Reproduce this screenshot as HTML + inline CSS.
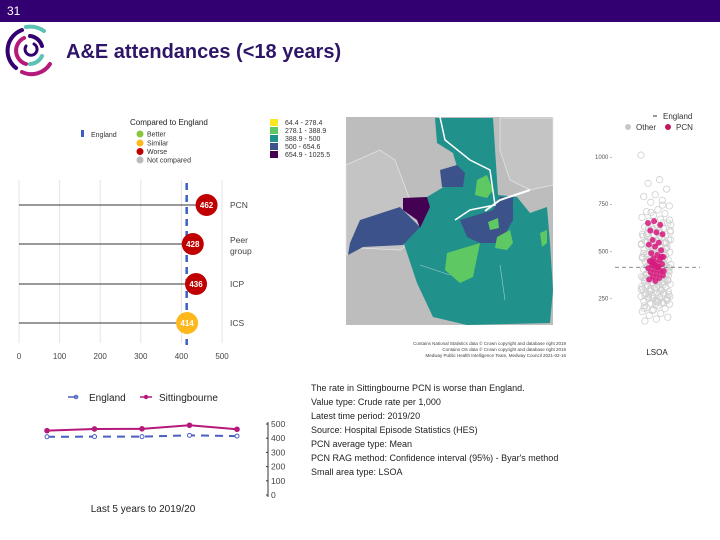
<!DOCTYPE html>
<html><head><meta charset="utf-8">
<style>
html,body{margin:0;padding:0;background:#fff;width:720px;height:540px;overflow:hidden;font-family:"Liberation Sans",sans-serif;}
svg text{font-family:"Liberation Sans",sans-serif;}
</style></head>
<body>
<svg id="s" width="720" height="540" viewBox="0 0 720 540" xmlns="http://www.w3.org/2000/svg">
  <rect x="0" y="0" width="720" height="22" fill="#330072"/>
  <text x="7" y="15" font-size="12" fill="#fff">31</text>
  <g fill="none" stroke-width="4" stroke-linecap="round">
    <path d="M22 30 A22 22 0 0 0 16 68" stroke="#330072"/>
    <path d="M26 27 A24 24 0 0 1 44 31" stroke="#5bc2b5"/>
    <path d="M50 64 A22 22 0 0 1 22 72" stroke="#b5197a"/>
    <path d="M24 38 A14 14 0 0 0 26 64" stroke="#b5197a"/>
    <path d="M30 36 A14 14 0 0 1 42 46" stroke="#330072"/>
    <path d="M42 56 A14 14 0 0 1 30 64" stroke="#5bc2b5"/>
    <path d="M26 46 A6 6 0 1 0 34 44" stroke="#330072" stroke-width="3"/>
  </g>
  <text x="66" y="58" font-size="20" font-weight="bold" fill="#2e1567">A&amp;E attendances (&lt;18 years)</text>

  <text x="130" y="125" font-size="8" fill="#222">Compared to England</text>
  <rect x="81" y="130" width="3" height="7" fill="#3a5fc4"/>
  <text x="91" y="137" font-size="7" fill="#333">England</text>
  <g font-size="7" fill="#333">
    <circle cx="140" cy="134" r="3.5" fill="#8cc63f"/><text x="147" y="136.5">Better</text>
    <circle cx="140" cy="143" r="3.5" fill="#ffb81c"/><text x="147" y="145.5">Similar</text>
    <circle cx="140" cy="151.5" r="3.5" fill="#c00000"/><text x="147" y="154">Worse</text>
    <circle cx="140" cy="160" r="3.5" fill="#bbb"/><text x="147" y="162.5">Not compared</text>
  </g>
  <g id="lolli"></g>

  <g font-size="7" fill="#333">
    <rect x="270" y="119" width="8" height="7" fill="#fde725"/><text x="285" y="125">64.4 - 278.4</text>
    <rect x="270" y="127" width="8" height="7" fill="#5ec962"/><text x="285" y="133">278.1 - 388.9</text>
    <rect x="270" y="135" width="8" height="7" fill="#21918c"/><text x="285" y="141">388.9 - 500</text>
    <rect x="270" y="143" width="8" height="7" fill="#3b528b"/><text x="285" y="149">500 - 654.6</text>
    <rect x="270" y="151" width="8" height="7" fill="#440154"/><text x="285" y="157">654.9 - 1025.5</text>
  </g>
  <g>
    <rect x="346" y="117" width="207" height="208" fill="#bdbdbd"/>
    <path d="M346 165 L380 150 L395 160 L410 200 L430 230 L400 250 L360 248 L346 255 Z" fill="#c4c4c4" stroke="#e6e6e6" stroke-width="0.7"/>
    <path d="M500 118 L553 118 L553 185 L530 190 L510 180 L500 150 Z" fill="#c4c4c4" stroke="#e6e6e6" stroke-width="0.7"/>
    <path d="M435 118 L493 118 L498 195 L517 197 L530 213 L547 207 L550 243 L553 290 L550 323 L467 325 L433 317 L417 283 L405 247 L403 240 L420 227 L427 197 L460 177 L453 153 L437 143 Z" fill="#21918c"/>
    <path d="M350 243 L360 220 L400 207 L420 227 L403 245 L363 247 L348 255 Z" fill="#3b528b"/>
    <path d="M403 198 L427 197 L430 207 L420 228 L417 220 L403 210 Z" fill="#440154"/>
    <path d="M440 170 L457 165 L465 173 L463 187 L442 187 Z" fill="#3b528b"/>
    <path d="M477 180 L487 175 L493 190 L487 198 L475 195 Z" fill="#5ec962"/>
    <path d="M460 220 L493 210 L500 197 L513 197 L513 220 L500 243 L480 243 L467 237 Z" fill="#3b528b"/>
    <path d="M447 253 L480 243 L473 277 L460 283 L445 270 Z" fill="#5ec962"/>
    <path d="M497 237 L510 230 L513 243 L507 250 L495 248 Z" fill="#5ec962"/>
    <path d="M488 222 L498 218 L499 228 L490 230 Z" fill="#5ec962"/>
    <path d="M540 233 L547 230 L547 243 L542 247 Z" fill="#5ec962"/>
    <path d="M440 117 L445 140 L470 160 L490 170 L495 205 L470 210 L455 220" fill="none" stroke="#fff" stroke-width="1.5"/>
    <path d="M485 211 L500 200 L515 195 L530 190" fill="none" stroke="#fff" stroke-width="2"/>
    <path d="M420 265 L450 275 M500 265 L505 300" stroke="#9fd3cf" stroke-width="0.6" fill="none"/>
  </g>
  <g font-size="4.5" fill="#444" text-anchor="end">
    <text x="566" y="345">Contains National Statistics data © Crown copyright and database right 2019</text>
    <text x="566" y="351">Contains OS data © Crown copyright and database right 2019</text>
    <text x="566" y="357">Medway Public Health Intelligence Team, Medway Council 2021-02-16</text>
  </g>

  <g font-size="8" fill="#333">
    <line x1="653" y1="116" x2="657" y2="116" stroke="#333"/><text x="663" y="119">England</text>
    <circle cx="628" cy="127" r="3" fill="#c8c8c8"/><text x="636" y="130">Other</text>
    <circle cx="668" cy="127" r="3" fill="#c2185b"/><text x="676" y="130">PCN</text>
  </g>
  <g id="scat"></g>
  <text x="657" y="355" font-size="8" fill="#222" text-anchor="middle">LSOA</text>

  <g font-size="10" fill="#222">
    <line x1="68" y1="397" x2="78" y2="397" stroke="#4a5fc1" stroke-width="1.5"/><circle cx="76" cy="397" r="1.8" fill="none" stroke="#4a5fc1"/>
    <text x="89" y="401">England</text>
    <line x1="140" y1="397" x2="152" y2="397" stroke="#b5197a" stroke-width="1.5"/><circle cx="146" cy="397" r="2.2" fill="#b5197a"/>
    <text x="159" y="401">Sittingbourne</text>
  </g>
  <g id="trend"></g>
  <text x="143" y="512" font-size="10" fill="#222" text-anchor="middle">Last 5 years to 2019/20</text>

  <g font-size="9" fill="#222">
    <text x="311" y="391">The rate in Sittingbourne PCN is worse than England.</text>
    <text x="311" y="405">Value type: Crude rate per 1,000</text>
    <text x="311" y="419">Latest time period: 2019/20</text>
    <text x="311" y="433">Source: Hospital Episode Statistics (HES)</text>
    <text x="311" y="447">PCN average type: Mean</text>
    <text x="311" y="461">PCN RAG method: Confidence interval (95%) - Byar's method</text>
    <text x="311" y="475">Small area type: LSOA</text>
  </g>
</svg>
<script>
const NS="http://www.w3.org/2000/svg";
const lolliCats=["PCN","Peer group","ICP","ICS"];
const lolliVals=[462,428,436,414];
const lolliColors=["#c00000","#c00000","#c00000","#ffb81c"];
const englandVal=413;
const lolliTicks=[0,100,200,300,400,500];
const trendYears=["2015/16","2016/17","2017/18","2018/19","2019/20"];
const trendSitt=[453,465,466,491,463];
const trendEng=[410,411,411,420,415];
const trendTicks=[0,100,200,300,400,500];
const scatTicks=[250,500,750,1000];
const scatEngland=415;
const scatOther=[1010,880,860,830,800,790,770,760,740,720,710,700,690,680,670,660,650,640,630,620,615,610,600,595,590,585,580,570,565,560,555,550,545,540,535,530,525,520,515,510,505,500,495,490,485,480,475,470,465,460,455,450,445,440,435,430,425,420,415,410,405,400,395,390,385,380,375,370,365,360,355,350,345,340,335,330,325,320,315,310,305,300,295,290,285,280,275,270,265,260,255,250,245,240,235,230,225,220,210,200,195,190,180,170,160,150,140,130,480,520,560,600,450,420,390,360,330,300,270,240,440,460,500,540,580,620,410,380,350,320,290,260,230,470,510,550,590,430,400,370,340,310,280,250,
 640,610,575,545,512,488,462,438,412,392,372,352,332,312,292,272,252,232,212,652,628,602,572,548,518,492,468,442,418,398,378,358,338,318,298,278,258,238,218,198,745,705,665,625,585,545,505,465,425,385,345,305,265,225,185];
const scatPCN=[650,660,640,610,600,590,560,545,535,525,505,490,480,470,462,455,448,440,432,425,418,410,402,395,388,380,372,365,358,350,342,470,445,415,395,430];

function el(tag,attrs,parent){const e=document.createElementNS(NS,tag);for(const k in attrs)e.setAttribute(k,attrs[k]);parent.appendChild(e);return e;}

(function(){
  const g=document.getElementById('lolli');
  const x=v=>19+v*0.406;
  const rowY=[205,244,284,323];
  lolliTicks.forEach(t=>{
    const l=el('line',{x1:x(t),x2:x(t),y1:180,y2:343,stroke:'#e4e4e4','stroke-width':1},g);
    
    
    const tx=el('text',{x:x(t),y:359,'font-size':8,fill:'#444','text-anchor':'middle'},g);
    tx.textContent=t;
    
    
  });
  const eng=el('line',{x1:x(englandVal),x2:x(englandVal),y1:183,y2:345,stroke:'#3a5fc4','stroke-width':2.5,'stroke-dasharray':'7,5'},g);
  
  
  lolliCats.forEach((c,i)=>{
    const y=rowY[i];
    const ln=el('line',{x1:x(0),x2:x(lolliVals[i]),y1:y,y2:y,stroke:'#333','stroke-width':1},g);
    
    
    const c1=el('circle',{cx:x(lolliVals[i]),cy:y,r:11,fill:lolliColors[i]},g);
    
    
    const t=el('text',{x:x(lolliVals[i]),y:y+3,'font-size':8,'font-weight':'bold',fill:'#fff','text-anchor':'middle'},g);
    t.textContent=lolliVals[i];
    
    
    const parts=c.split(' ');
    parts.forEach((p,j)=>{
      const lt=el('text',{x:230,y:y+3+(parts.length>1?(j*11-4):0),'font-size':8.5,fill:'#444'},g);
      lt.textContent=p;
      
      
    });
  });
})();

(function(){
  const g=document.getElementById('trend');
  const x=i=>47+i*47.5;
  const y=v=>495-v*0.142;
  const ax=el('line',{x1:268,x2:268,y1:y(500)-2,y2:y(0)+2,stroke:'#333','stroke-width':1},g);
  
  
  trendTicks.forEach(t=>{
    const tk=el('line',{x1:266,x2:268,y1:y(t),y2:y(t),stroke:'#333'},g);
    
    
    const tx=el('text',{x:271,y:y(t)+3,'font-size':8.5,fill:'#444'},g);
    tx.textContent=t;
    
    
  });
  const pe=el('polyline',{points:trendEng.map((v,i)=>x(i)+','+y(v)).join(' '),fill:'none',stroke:'#4a5fc1','stroke-width':2,'stroke-dasharray':'8,6'},g);
  
  
  trendEng.forEach((v,i)=>{
    const c=el('circle',{cx:x(i),cy:y(v),r:2,fill:'#fff',stroke:'#4a5fc1'},g);
    
    
  });
  const ps=el('polyline',{points:trendSitt.map((v,i)=>x(i)+','+y(v)).join(' '),fill:'none',stroke:'#b5197a','stroke-width':2},g);
  
  
  trendSitt.forEach((v,i)=>{
    const c=el('circle',{cx:x(i),cy:y(v),r:2.8,fill:'#b5197a'},g);
    
    
  });
})();

(function(){
  const g=document.getElementById('scat');
  const y=v=>345.5-v*0.1885;
  scatTicks.forEach(t=>{
    const tx=el('text',{x:612,y:y(t)+2,'font-size':6,fill:'#555','text-anchor':'end'},g);
    tx.textContent=t+' -';
    
    
  });
  scatOther.forEach((v,i)=>{
    const jx=((i*0.61803)%1)*30-15;
    const c=el('circle',{cx:656+jx,cy:y(v),r:3.2,fill:'none',stroke:'#cfcfcf','stroke-width':0.8},g);
    
    
  });
  const eng=el('line',{x1:615,x2:700,y1:y(scatEngland),y2:y(scatEngland),stroke:'#666','stroke-width':0.8,'stroke-dasharray':'4,3'},g);
  
  
  scatPCN.forEach((v,i)=>{
    const jx=((i*0.381966)%1)*16-8;
    const c=el('circle',{cx:656+jx,cy:y(v),r:3,fill:'#d6197e',opacity:0.85},g);
    
    
  });
})();
</script>
</body></html>
